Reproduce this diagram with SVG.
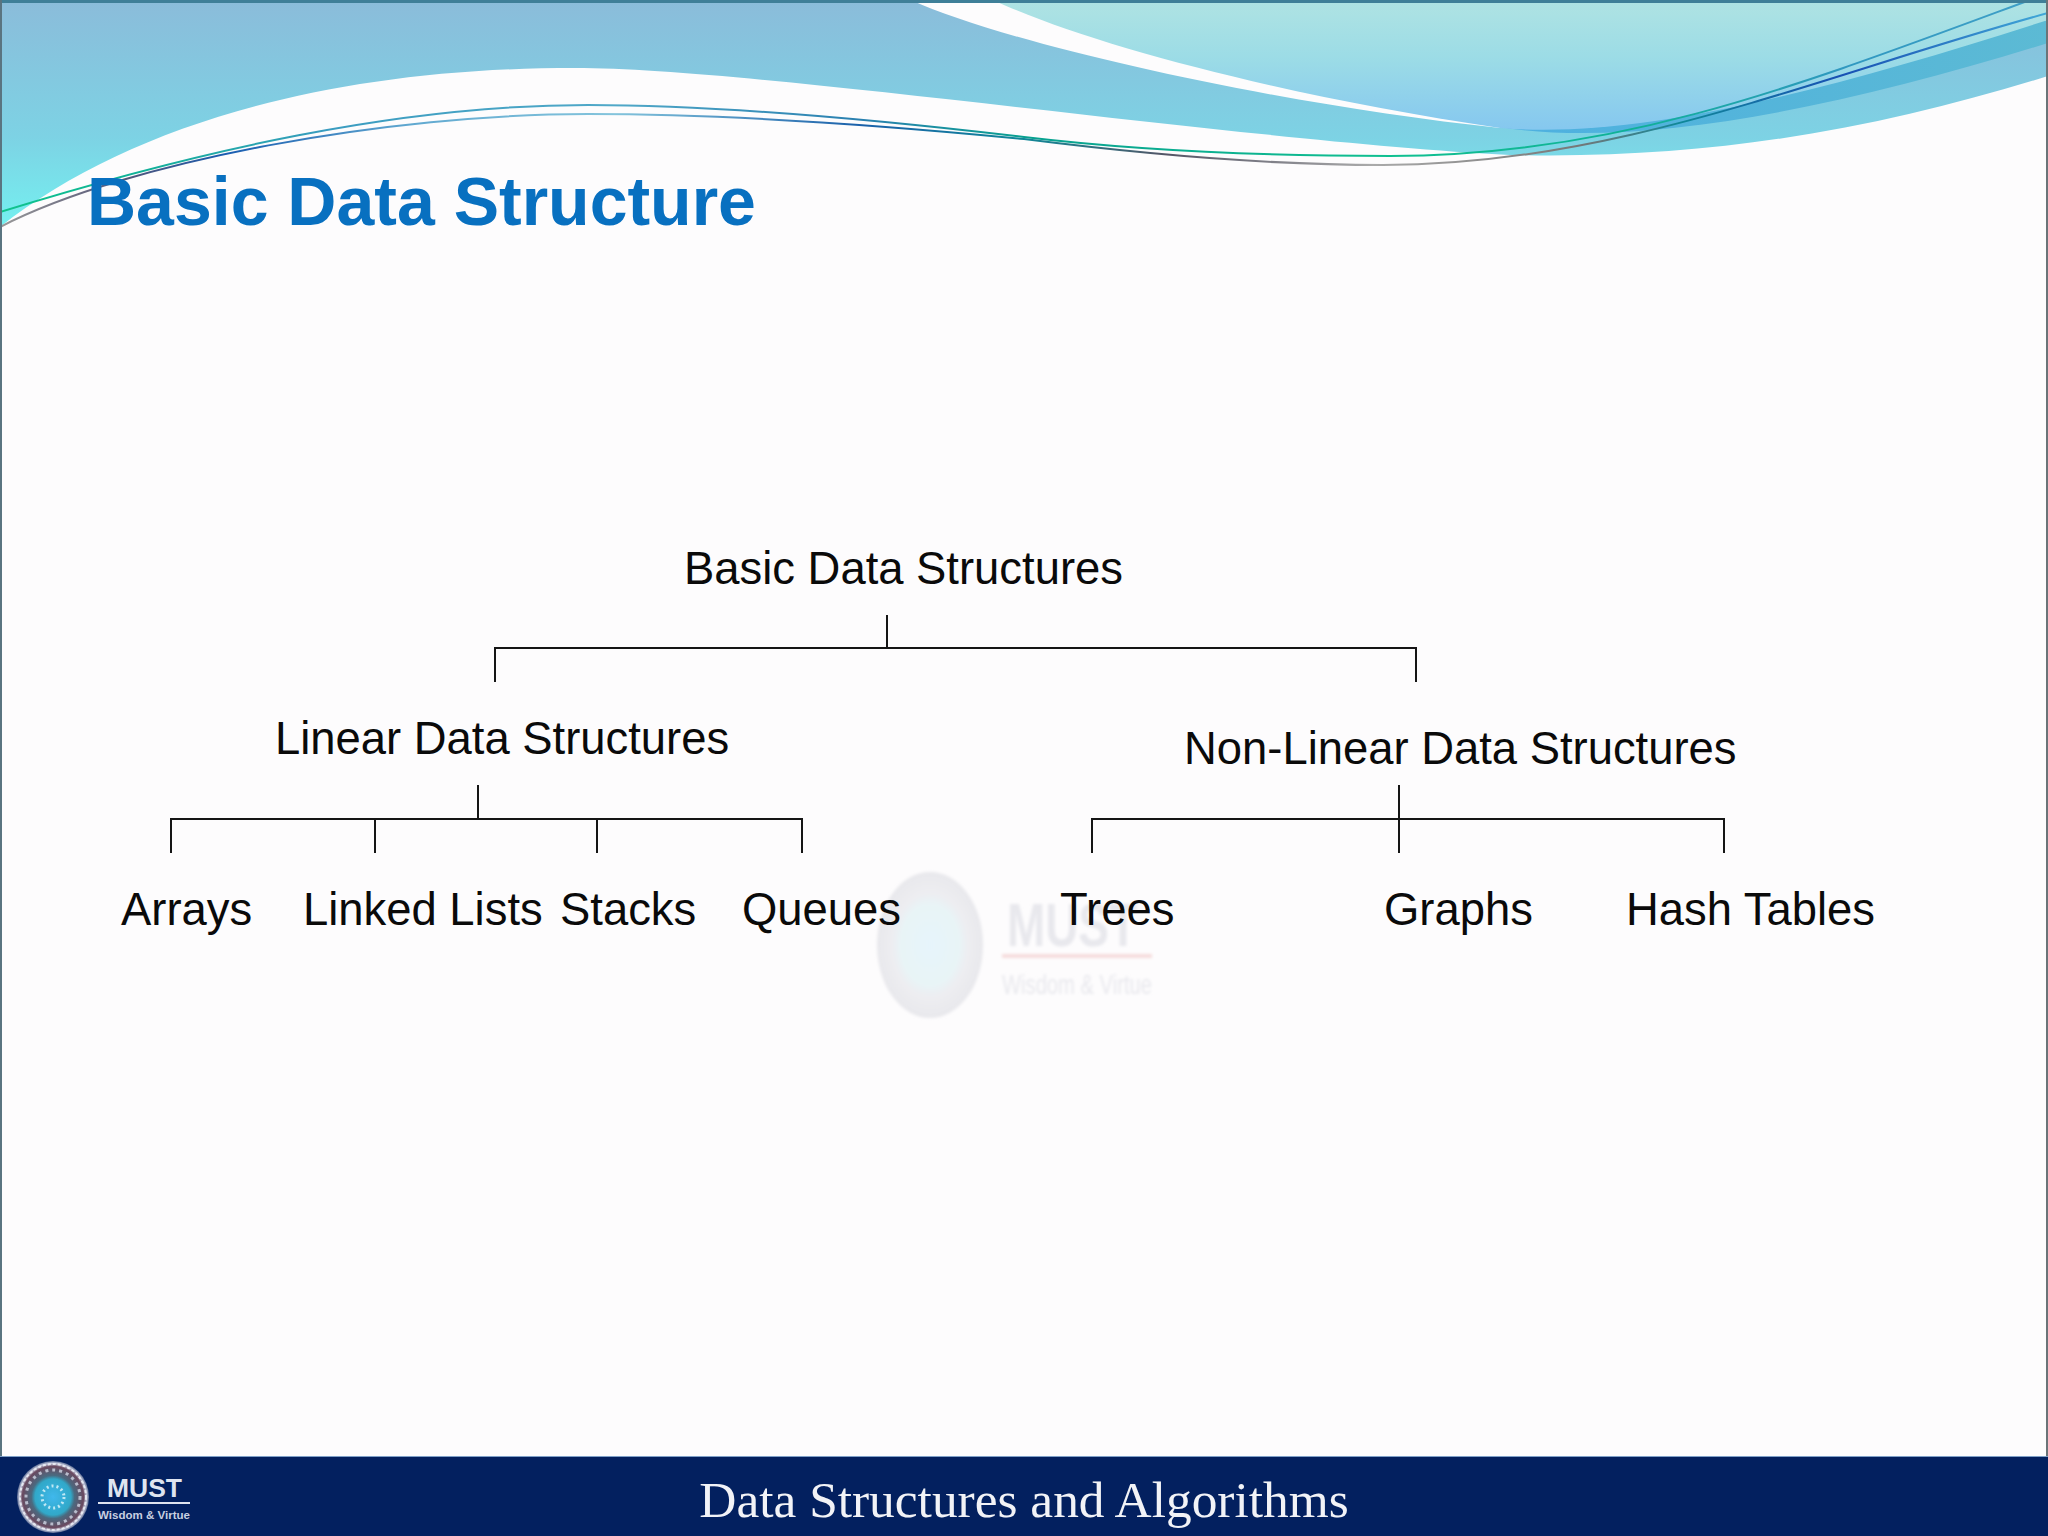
<svg xmlns="http://www.w3.org/2000/svg" width="2048" height="1536" viewBox="0 0 2048 1536">
<style>
.t{font-family:"Liberation Sans",Arial,sans-serif;font-size:45.4px;fill:#0a0a0a}
.c{fill:none;stroke:#151515;stroke-width:2}
.wm{font-family:"Liberation Sans",Arial,sans-serif;fill:#e8e8ed}
</style>
<defs>
<filter id="soft" x="-10%" y="-10%" width="120%" height="120%"><feGaussianBlur stdDeviation="1.4"/></filter>
<filter id="soft2" x="-10%" y="-10%" width="120%" height="120%"><feGaussianBlur stdDeviation=".6"/></filter>
<linearGradient id="band" gradientUnits="userSpaceOnUse" x1="0" y1="0" x2="0" y2="227"><stop offset="0" stop-color="#8bbcda"/><stop offset=".6" stop-color="#7dd2e4"/><stop offset="1" stop-color="#74f0f0"/></linearGradient>
<linearGradient id="panel" gradientUnits="userSpaceOnUse" x1="0" y1="0" x2="0" y2="128"><stop offset="0" stop-color="#afe3e3"/><stop offset=".45" stop-color="#9cdce6"/><stop offset="1" stop-color="#86c8ef"/></linearGradient>
<linearGradient id="dark" gradientUnits="userSpaceOnUse" x1="1500" y1="0" x2="2048" y2="0"><stop offset="0" stop-color="#4db0e0"/><stop offset="1" stop-color="#5cbad4"/></linearGradient>
<linearGradient id="l1" gradientUnits="userSpaceOnUse" x1="0" y1="0" x2="2048" y2="0"><stop offset="0" stop-color="#10c48c"/><stop offset=".07" stop-color="#10b098"/><stop offset=".16" stop-color="#3a9cc0"/><stop offset=".3" stop-color="#50a8c8"/><stop offset=".42" stop-color="#2a80b0"/><stop offset=".5" stop-color="#08a090"/><stop offset=".68" stop-color="#10c090"/><stop offset=".8" stop-color="#10b098"/><stop offset=".9" stop-color="#3098c0"/><stop offset="1" stop-color="#40a0c8"/></linearGradient>
<linearGradient id="l2" gradientUnits="userSpaceOnUse" x1="0" y1="0" x2="2048" y2="0"><stop offset="0" stop-color="#999"/><stop offset=".06" stop-color="#557"/><stop offset=".11" stop-color="#1a5cb0"/><stop offset=".2" stop-color="#60a8d0"/><stop offset=".3" stop-color="#84c4dc"/><stop offset=".42" stop-color="#1a60aa"/><stop offset=".5" stop-color="#108898"/><stop offset=".57" stop-color="#556"/><stop offset=".67" stop-color="#aaa"/><stop offset=".77" stop-color="#777"/><stop offset=".82" stop-color="#108898"/><stop offset=".9" stop-color="#1850b4"/><stop offset="1" stop-color="#40a8d8"/></linearGradient>
<radialGradient id="lg"><stop offset="0" stop-color="#40b8ec"/><stop offset=".5" stop-color="#30a8c8"/><stop offset=".6" stop-color="#4a6a80"/><stop offset=".85" stop-color="#6a4a60"/><stop offset=".93" stop-color="#c8cce0"/><stop offset="1" stop-color="#5a6a90"/></radialGradient>
<radialGradient id="wg"><stop offset="0" stop-color="#e6f4fb"/><stop offset=".55" stop-color="#e8f4f6"/><stop offset=".72" stop-color="#ededf1"/><stop offset="1" stop-color="#e8e8ec"/></radialGradient>
</defs>
<rect width="2048" height="1536" fill="#fdfcfd"/>
<g id="watermark" filter="url(#soft)">
<ellipse cx="930" cy="945" rx="53" ry="73" fill="url(#wg)"/>
<text class="wm" x="1007" y="946" font-size="62" font-weight="bold" textLength="130" lengthAdjust="spacingAndGlyphs">MUST</text>
<rect x="1002" y="954" width="150" height="4" fill="#f5dcdc"/>
<text class="wm" x="1002" y="994" font-size="27" textLength="150" lengthAdjust="spacingAndGlyphs">Wisdom &amp; Virtue</text>
</g>
<g id="header">
<path d="M0,0H911C1010,45 1280,105 1500,128L2048,20V76C1890,125 1720,160 1510,155C1230,140 760,68 575,68C330,68 130,125 0,227Z" fill="url(#band)"/>
<path d="M1500,127C1640,150 1850,105 2048,43V20Z" fill="url(#dark)"/>
<path d="M993,0C1090,45 1280,95 1500,128C1640,140 1830,90 2048,20V0Z" fill="url(#panel)"/>
<path d="M0,212C200,150 400,105 588,105C720,105 880,120 1024,137C1150,152 1270,156 1390,156C1620,156 1800,85 2030,0" fill="none" stroke="url(#l1)" stroke-width="2"/>
<path d="M0,227C130,160 390,114 588,114C720,114 880,125 1024,139C1150,155 1270,165 1383,165C1620,165 1820,75 2048,13" fill="none" stroke="url(#l2)" stroke-width="2"/>
<rect width="2048" height="3" fill="#3f7f98"/>
<rect y="0" width="2" height="1456" fill="#5a7480"/>
<rect x="2046" y="0" width="2" height="1456" fill="#6a7478"/>
</g>
<text id="title" x="87" y="225" font-family="'Liberation Sans',Arial,sans-serif" font-size="68" font-weight="bold" fill="#0870c0">Basic Data Structure</text>
<g id="connectors">
<path class="c" d="M887,615V648M495,682V648H1416V682"/>
<path class="c" d="M478,785V819M171,853V819H802V853M375,819V853M597,819V853"/>
<path class="c" d="M1399,785V853M1092,853V819H1724V853"/>
</g>
<g id="node-root"><text class="t" x="684" y="584">Basic Data Structures</text></g>
<g id="node-linear"><text class="t" x="275" y="754">Linear Data Structures</text></g>
<g id="node-nonlinear"><text class="t" x="1184" y="764">Non-Linear Data Structures</text></g>
<g id="node-arrays"><text class="t" x="121" y="925">Arrays</text></g>
<g id="node-linked"><text class="t" x="303" y="925">Linked Lists</text></g>
<g id="node-stacks"><text class="t" x="560" y="925">Stacks</text></g>
<g id="node-queues"><text class="t" x="742" y="925">Queues</text></g>
<g id="node-trees"><text class="t" x="1060" y="925">Trees</text></g>
<g id="node-graphs"><text class="t" x="1384" y="925">Graphs</text></g>
<g id="node-hash"><text class="t" x="1626" y="925">Hash Tables</text></g>
<g id="footer">
<rect y="1456" width="2048" height="80" fill="#03205f"/>
<rect y="1456" width="2048" height="1" fill="#7fa0c8"/>
<g filter="url(#soft2)">
<circle cx="53" cy="1497" r="36" fill="url(#lg)"/>
<circle cx="53" cy="1497" r="27" fill="none" stroke="#b8bccc" stroke-width="3" stroke-dasharray="3 4"/>
<circle cx="53" cy="1497" r="33" fill="none" stroke="#e6e8f0" stroke-width="2" stroke-dasharray="3 2"/>
<circle cx="53" cy="1497" r="11" fill="none" stroke="#bfe8f4" stroke-width="3" stroke-dasharray="2 3"/>
</g>
<text x="107" y="1497" font-family="'Liberation Sans',sans-serif" font-size="26" font-weight="bold" fill="#dfe4f0" textLength="75" lengthAdjust="spacingAndGlyphs">MUST</text>
<rect x="98" y="1502" width="92" height="2" fill="#dfe4f0"/>
<text x="98" y="1519" font-family="'Liberation Sans',sans-serif" font-size="11" font-weight="bold" fill="#c8cfe0" textLength="92" lengthAdjust="spacingAndGlyphs">Wisdom &amp; Virtue</text>
<text x="1024" y="1517" text-anchor="middle" font-family="'Liberation Serif','Times New Roman',serif" font-size="51.4" fill="#f2f3f7">Data Structures and Algorithms</text>
</g>
</svg>
